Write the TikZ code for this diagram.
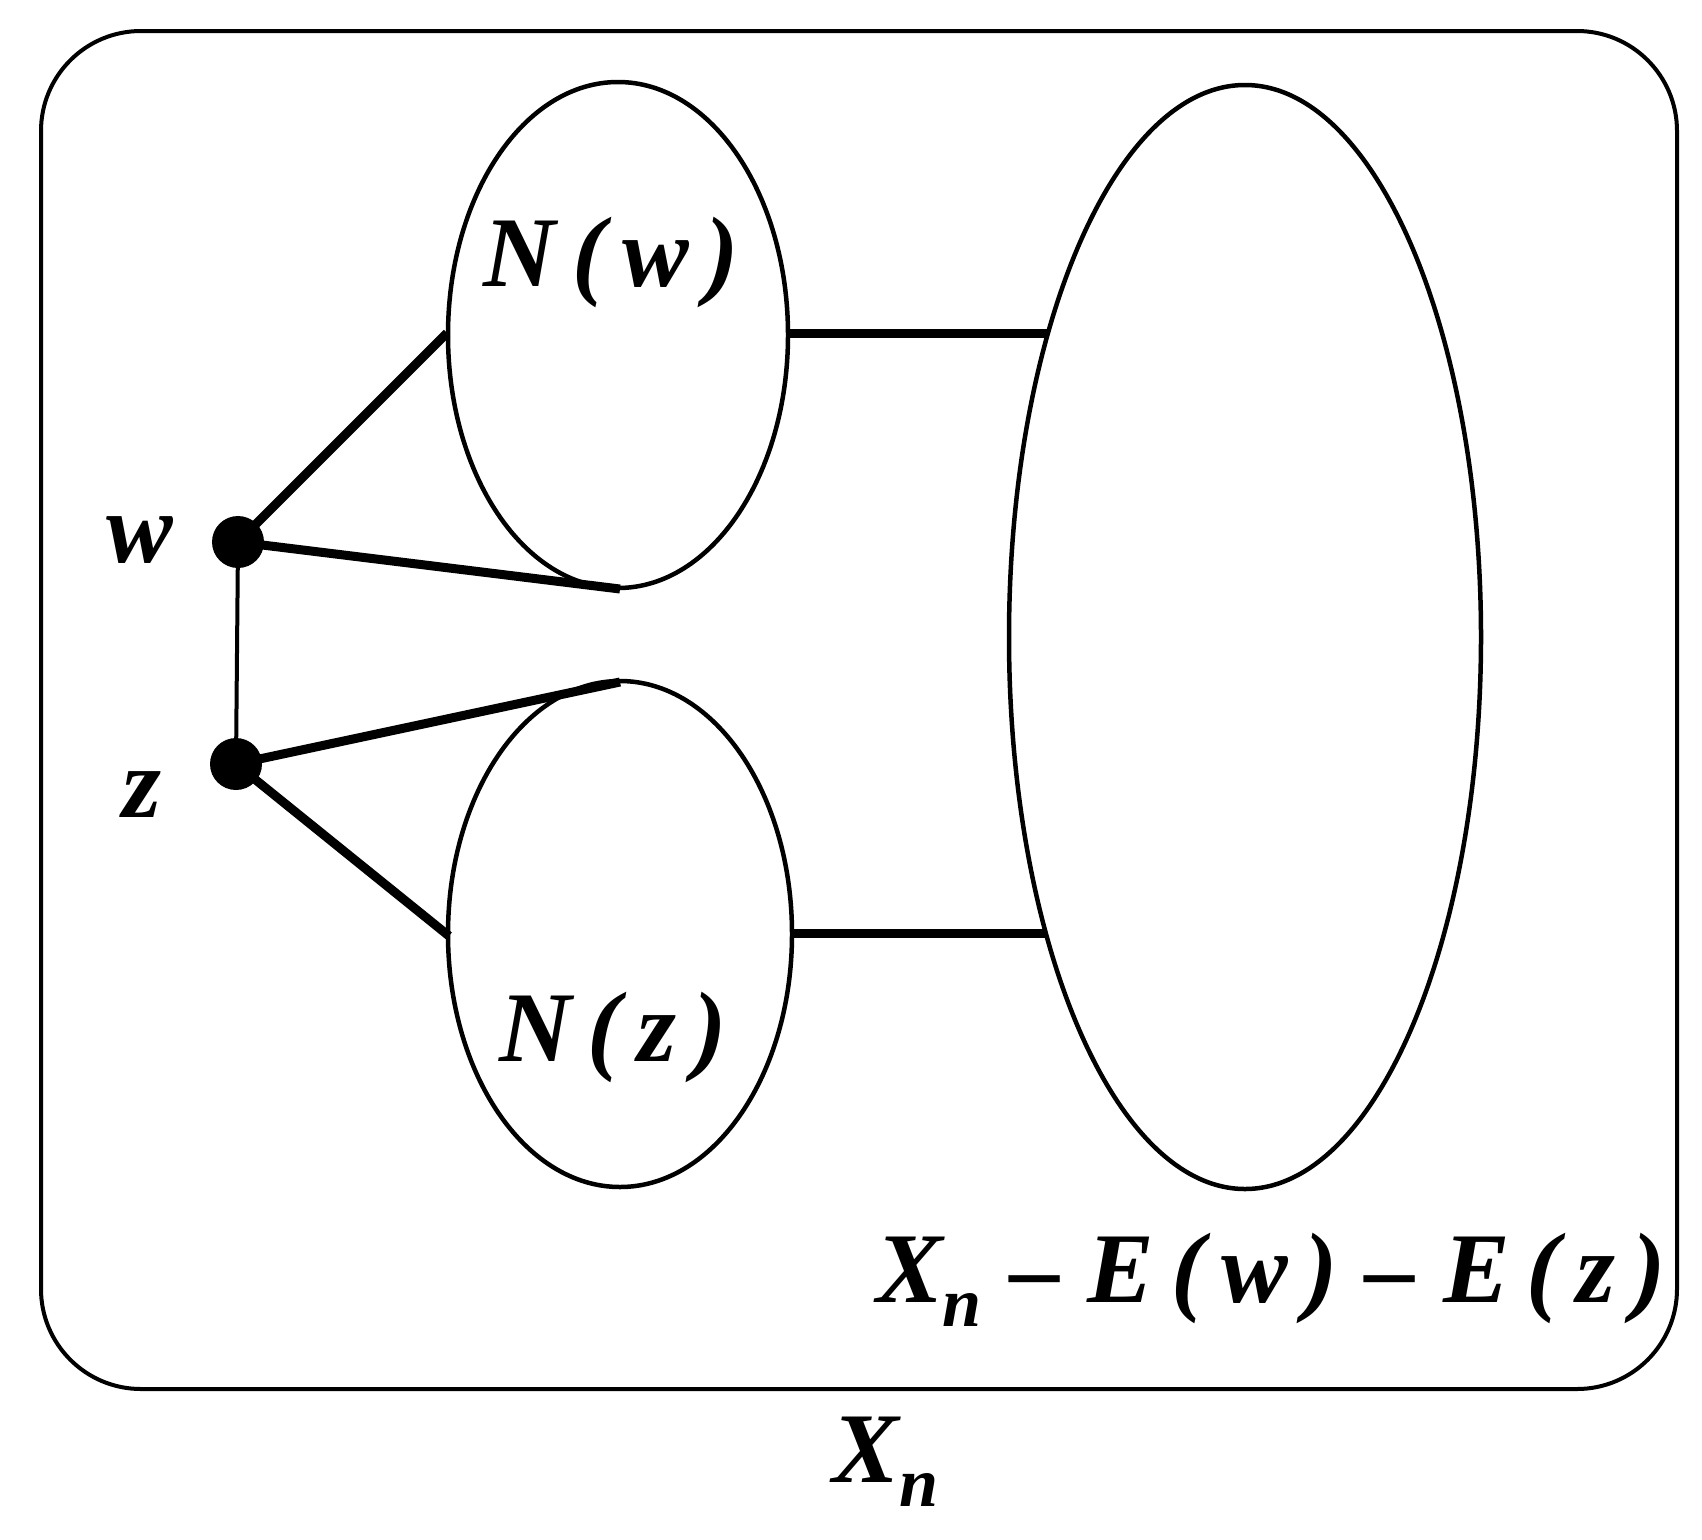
\documentclass[tikz,border=0pt]{standalone}
\usepackage{fontspec}
\setmainfont{Liberation Serif}
\begin{document}
\begin{tikzpicture}[x=1pt,y=-1pt,
  ell/.style={draw,line width=4.5pt},
  thickedge/.style={line width=9pt},
  lab/.style={font=\fontsize{100}{110}\selectfont\bfseries\itshape},
  vtx/.style={circle,fill=black,inner sep=0pt,minimum size=52pt}]
\useasboundingbox (0,0) rectangle (1702,1539);
\draw[line width=4pt,rounded corners=100pt] (41,31) rectangle (1677,1389);
\draw[ell] (618,335) ellipse [x radius=170,y radius=253];
\draw[ell] (620,934) ellipse [x radius=172,y radius=253];
\draw[ell] (1245,637) ellipse [x radius=236,y radius=552];
\coordinate (nwl) at (447,333); \coordinate (nwb) at (620,589);
\coordinate (nzt) at (620,682); \coordinate (nzl) at (449,936);
\coordinate (nwr) at (788,333); \coordinate (bl1) at (1047,333);
\coordinate (nzr) at (793,933); \coordinate (bl2) at (1045,933);
\node[vtx] (w) at (238,542) {};
\node[vtx] (z) at (236,764) {};
\draw[line width=4pt] (w.center) -- (z.center);
\draw[thickedge] (w.center) -- (nwl);
\draw[thickedge] (w.center) -- (nwb);
\draw[thickedge] (z.center) -- (nzt);
\draw[thickedge] (z.center) -- (nzl);
\draw[thickedge] (nwr) -- (bl1);
\draw[thickedge] (nzr) -- (bl2);
\node[lab] (lw) at (140,540) {w};
\node[lab] (lz) at (142,795) {z};
\node[lab] (lnw) at (611,262) {N\,(\,w\,)};
\node[lab] (lnz) at (613,1037) {N\,(\,z\,)};
\node[lab] (lx) at (1271,1280) {X\textsubscript{n}\;–\;E\,(\,w\,)\;–\;E\,(\,z\,)};
\node[lab] (lxn) at (886,1462) {X\textsubscript{n}};
\end{tikzpicture}
\end{document}
